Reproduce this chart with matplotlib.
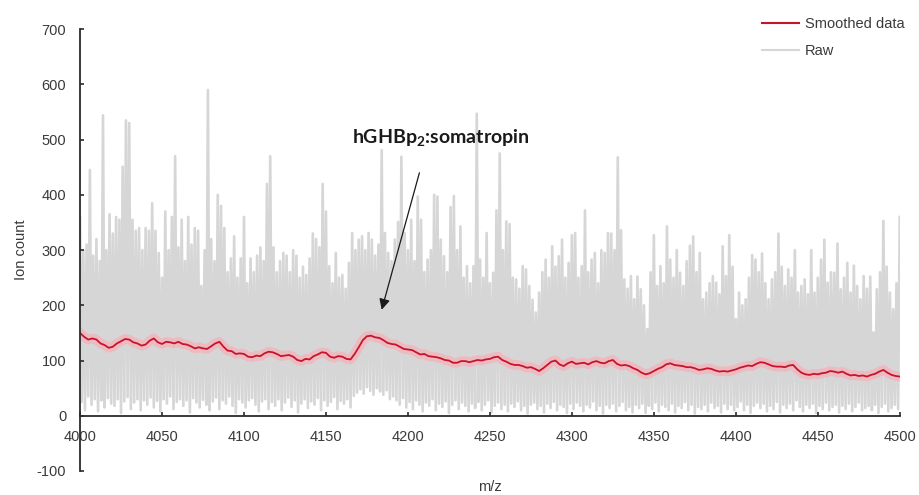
import numpy as np
import matplotlib
matplotlib.use("Agg")
import matplotlib.pyplot as plt
from matplotlib.lines import Line2D

# Raw spectrum: local maxima at even m/z, local minima at odd m/z (4000..4500)
raw_peaks = [
    360, 300, 310, 445, 290, 320, 280, 544, 300, 365,
    330, 360, 355, 451, 535, 530, 355, 335, 340, 300,
    340, 335, 385, 335, 295, 250, 370, 300, 360, 470,
    305, 355, 280, 360, 310, 340, 335, 235, 300, 590,
    320, 280, 400, 380, 340, 260, 285, 325, 250, 285,
    360, 240, 285, 260, 290, 305, 280, 420, 470, 305,
    260, 280, 295, 290, 260, 300, 290, 250, 270, 255,
    285, 330, 320, 305, 420, 370, 271, 240, 295, 250,
    255, 230, 277, 331, 300, 319, 325, 300, 331, 319,
    290, 310, 481, 331, 295, 280, 319, 351, 469, 331,
    300, 355, 280, 397, 355, 260, 283, 300, 400, 397,
    319, 289, 260, 378, 398, 300, 343, 250, 271, 240,
    271, 547, 283, 250, 331, 240, 259, 372, 475, 300,
    352, 347, 250, 247, 230, 271, 265, 235, 210, 187,
    223, 260, 283, 250, 307, 270, 289, 319, 250, 277,
    327, 331, 250, 271, 372, 260, 283, 295, 240, 300,
    295, 331, 330, 300, 468, 336, 247, 230, 253, 211,
    252, 229, 200, 157, 260, 327, 235, 271, 240, 343,
    283, 250, 300, 259, 235, 280, 308, 325, 260, 295,
    211, 223, 240, 253, 241, 220, 307, 253, 327, 270,
    175, 223, 200, 211, 250, 291, 283, 260, 294, 240,
    211, 247, 260, 330, 270, 235, 265, 250, 300, 223,
    235, 247, 220, 300, 223, 250, 283, 319, 241, 260,
    259, 312, 229, 250, 277, 223, 272, 235, 211, 253,
    230, 252, 151, 229, 260, 353, 270, 223, 193, 240,
    360,
]

raw_troughs = [
    25, 10, 35, 20, 30, 8, 28, 15, 32, 22,
    18, 30, 5, 26, 34, 12, 24, 30, 10, 28,
    20, 33, 15, 27, 8, 30, 22, 35, 12, 25,
    30, 18, 28, 6, 32, 24, 15, 29, 20, 10,
    26, 33, 12, 28, 22, 35, 18, 5, 30, 24,
    15, 28, 32, 20, 8, 26, 30, 12, 25, 18,
    30, 10, 24, 33, 16, 28, 6, 22, 30, 14,
    26, 20, 32, 10, 28, 18, 25, 34, 12, 27,
    22, 30, 15, 36, 42, 48, 40, 52, 45, 38,
    50, 44, 38, 46, 30, 35, 28, 20, 32, 15,
    25, 12, 28, 20, 8, 24, 18, 30, 10, 22,
    16, 26, 5, 20, 28, 12, 24, 18, 8, 22,
    14, 25, 10, 20, 28, 6, 18, 24, 12, 20,
    8, 22, 16, 26, 10, 18, 4, 20, 24, 12,
    18, 6, 22, 14, 25, 10, 20, 16, 5, 22,
    12, 24, 18, 8, 20, 15, 26, 10, 18, 4,
    20, 14, 22, 8, 18, 25, 10, 16, 6, 20,
    14, 22, 5, 18, 12, 24, 8, 20, 16, 10,
    22, 6, 18, 14, 25, 10, 20, 4, 16, 12,
    20, 8, 24, 14, 18, 6, 22, 12, 20, 10,
    16, 26, 10, 20, 5, 18, 24, 14, 22, 8,
    18, 12, 25, 6, 20, 14, 22, 10, 28, 16,
    8, 20, 14, 22, 5, 18, 12, 24, 10, 16,
    20, 6, 18, 12, 22, 8, 16, 24, 10, 14,
    18, 10, 20, 5, 16, 22, 8, 14, 20, 12,
]

# Smoothed trace every 2.5 m/z (4000..4500)
smoothed = [
    150, 143, 138, 140, 138, 131, 128, 123, 125, 131,
    135, 139, 138, 133, 131, 127, 129, 136, 140, 133,
    130, 134, 133, 131, 134, 130, 129, 126, 122, 124,
    122, 121, 126, 131, 134, 125, 118, 117, 112, 113,
    112, 107, 106, 109, 108, 113, 116, 115, 112, 108,
    109, 110, 107, 101, 99, 103, 102, 108, 111, 115,
    114, 107, 105, 108, 107, 103, 102, 112, 124, 137,
    144, 145, 142, 141, 137, 132, 130, 129, 125, 121,
    120, 119, 115, 111, 112, 108, 107, 106, 104, 101,
    100, 96, 96, 99, 99, 97, 99, 101, 100, 102,
    103, 106, 107, 101, 98, 94, 92, 92, 90, 87,
    88, 85, 81, 86, 92, 98, 100, 93, 90, 95,
    98, 94, 95, 96, 93, 97, 99, 96, 95, 99,
    101, 94, 91, 92, 90, 86, 83, 78, 75, 77,
    81, 85, 88, 93, 95, 92, 91, 90, 88, 88,
    86, 83, 84, 86, 85, 82, 80, 81, 80, 82,
    84, 87, 89, 91, 90, 94, 97, 96, 93, 90,
    89, 89, 88, 91, 92, 84, 78, 75, 74, 76,
    75, 77, 78, 81, 80, 78, 80, 76, 73, 74,
    72, 73, 71, 74, 76, 80, 83, 78, 74, 72,
    71,
]

raw_mz = np.arange(4000, 4501, 1)
smooth_mz = np.linspace(4000, 4500, len(smoothed))
raw_counts = np.empty(raw_mz.size)
raw_counts[0::2] = raw_peaks
raw_counts[1::2] = raw_troughs

x_ticks = list(range(4000, 4501, 50))
y_ticks = list(range(-100, 701, 100))

annotation_text = "hGHBp$_{\\mathbf{2}}$:somatropin"
annotation_xy = (4184, 192)
annotation_text_xy = (4207, 440)
annotation_label_xy = (4220, 503)

plt.rcParams["font.family"] = ["Liberation Sans", "DejaVu Sans"]
plt.rcParams["axes.unicode_minus"] = False
plt.rcParams["mathtext.fontset"] = "custom"
plt.rcParams["mathtext.bf"] = "Lato:bold"
plt.rcParams["mathtext.rm"] = "Lato:bold"

RAW_GREY = "#d7d6d7"
RED = "#c8142a"
TXT = "#3a3a3a"

fig = plt.figure(figsize=(9.2, 4.95), dpi=100)
ax = fig.add_axes([0.087, 0.0485, 0.891, 0.8925])

ax.plot(raw_mz, raw_counts, color=RAW_GREY, lw=1.9, zorder=1)
ax.plot(smooth_mz, smoothed, color="#f4b3bb", lw=7, alpha=0.75,
        solid_joinstyle="round", zorder=2)
ax.plot(smooth_mz, smoothed, color=RED, lw=1.3, zorder=3)

ax.set_xlim(4000, 4500)
ax.set_ylim(-100, 700)
ax.set_xticks(x_ticks)
ax.set_yticks(y_ticks)

for side in ("top", "right"):
    ax.spines[side].set_visible(False)
ax.spines["bottom"].set_position(("data", 0))
for side in ("left", "bottom"):
    ax.spines[side].set_color("#2b2b2b")
    ax.spines[side].set_linewidth(1.3)
    ax.spines[side].set_zorder(5)

ax.tick_params(axis="both", direction="in", length=3, width=1.2,
               color="#2b2b2b", labelsize=10.5, labelcolor=TXT)
ax.tick_params(axis="x", pad=10)
ax.tick_params(axis="y", pad=10)

ax.set_ylabel("Ion count", fontsize=10.5, color=TXT)
ax.yaxis.set_label_coords(-0.063, 0.5)
ax.set_xlabel("m/z", fontsize=10.5, color=TXT)
ax.xaxis.set_label_coords(0.5, -0.036)
ax.xaxis.label.set_va("center")

ax.annotate("", xy=annotation_xy, xytext=annotation_text_xy,
            arrowprops=dict(arrowstyle="-|>", color="#1a1a1a", lw=0.9,
                            mutation_scale=16, shrinkA=0, shrinkB=0),
            zorder=6)
ax.text(*annotation_label_xy, annotation_text, ha="center", va="center",
        fontsize=14, fontweight="bold", family=["Lato", "DejaVu Sans"],
        color="#1a1a1a", zorder=6)

handles = [Line2D([], [], color=RED, lw=1.5),
           Line2D([], [], color=RAW_GREY, lw=1.5)]
leg = fig.legend(handles, ["Smoothed data", "Raw"], loc="upper left",
                 bbox_to_anchor=(0.822, 0.977), frameon=False,
                 fontsize=10.5, handlelength=2.5, handletextpad=0.45,
                 labelspacing=0.85, borderaxespad=0)
for t in leg.get_texts():
    t.set_color(TXT)

fig.savefig("out.png", dpi=100)
